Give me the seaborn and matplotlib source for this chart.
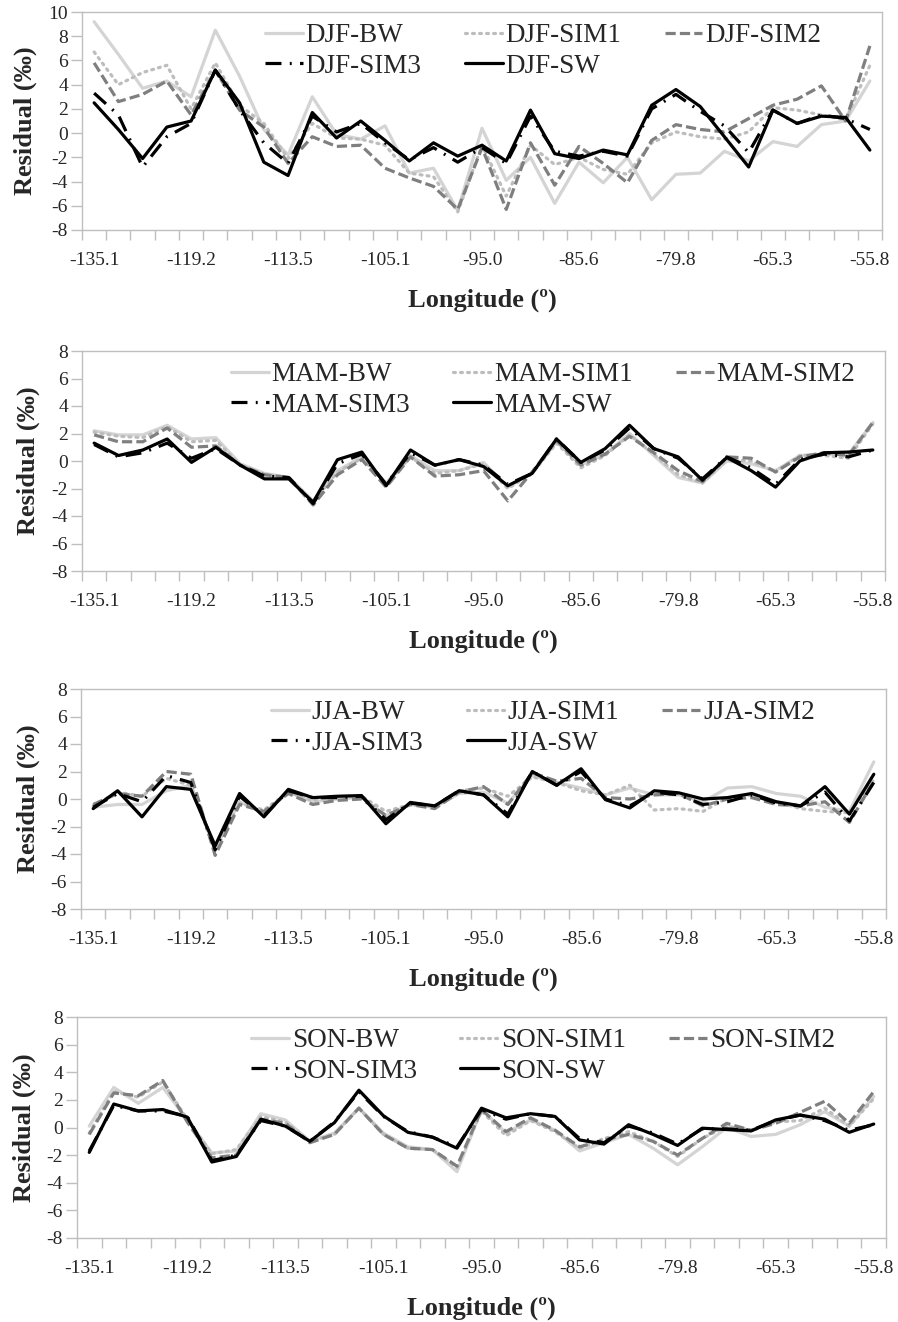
import numpy as np
import pandas as pd
import matplotlib
matplotlib.use("Agg")
import matplotlib.pyplot as plt
import seaborn as sns

# Category positions along the transect and their labels
lon_labels = ["-135.1", "-119.2", "-113.5", "-105.1", "-95.0", "-85.6", "-79.8", "-65.3", "-55.8"]
n_sites = 33

# ---- DJF residuals (permil) ----
djf_bw   = [9.2, 6.5, 3.7, 4.3, 3.0, 8.5, 4.7, 0.3, -1.8, 3.0, -0.1, -0.5, 0.6, -3.3, -2.9, -6.4, 0.4, -3.9, -2.0, -5.8, -2.4, -4.1, -2.0, -5.5, -3.4, -3.3, -1.5, -2.3, -0.7, -1.1, 0.7, 1.0, 4.3]
djf_sim1 = [6.7, 4.0, 5.0, 5.6, 2.0, 5.8, 2.3, 0.8, -2.1, 0.8, -0.4, -0.5, -1.0, -3.3, -3.6, -6.5, -1.0, -5.2, -1.0, -2.6, -2.0, -3.0, -3.4, -0.8, 0.1, -0.3, -0.5, 0.1, 2.1, 1.9, 1.5, 1.1, 5.6]
djf_sim2 = [5.8, 2.6, 3.2, 4.3, 1.5, 5.2, 1.9, 0.5, -2.5, -0.3, -1.1, -1.0, -2.9, -3.7, -4.4, -6.3, -1.2, -6.3, -0.8, -4.3, -1.1, -2.5, -4.1, -0.6, 0.7, 0.3, 0.1, 1.2, 2.3, 2.8, 3.9, 1.0, 7.2]
djf_sim3 = [3.3, 1.5, -2.8, -0.3, 0.8, 5.2, 1.9, -0.8, -2.5, 1.4, 0.1, 0.8, -0.8, -2.2, -1.2, -2.4, -1.2, -2.5, 1.4, -1.5, -1.9, -1.5, -1.9, 2.0, 3.2, 1.8, 0.6, -1.6, 1.9, 0.8, 1.5, 1.2, 0.3]
djf_sw   = [2.5, 0.3, -2.1, 0.5, 1.0, 5.2, 2.5, -2.4, -3.5, 1.7, -0.4, 1.0, -0.6, -2.3, -0.8, -1.9, -1.0, -2.3, 1.9, -1.7, -2.1, -1.4, -1.8, 2.3, 3.6, 2.2, -0.3, -2.8, 1.9, 0.8, 1.4, 1.3, -1.4]

# ---- MAM residuals ----
mam_bw   = [2.2, 1.9, 1.9, 2.6, 1.6, 1.7, -0.2, -0.9, -1.2, -2.9, -0.7, 0.3, -1.6, 0.4, -0.7, -0.7, -0.1, -1.9, -0.9, 1.4, -0.3, 0.5, 2.0, 0.4, -1.2, -1.6, 0.0, -0.2, -0.7, 0.4, 0.5, 0.5, 2.8]
mam_sim1 = [2.1, 1.8, 1.7, 2.5, 1.4, 1.5, -0.3, -1.0, -1.2, -3.0, -0.8, 0.2, -1.7, 0.3, -0.9, -0.7, -0.2, -2.0, -0.9, 1.3, -0.5, 0.4, 1.9, 0.5, -1.0, -1.6, 0.1, 0.0, -0.8, 0.4, 0.4, 0.2, 2.7]
mam_sim2 = [1.9, 1.4, 1.4, 2.4, 1.0, 1.1, -0.3, -1.0, -1.2, -3.2, -1.0, 0.1, -1.9, 0.3, -1.1, -1.0, -0.7, -2.9, -0.8, 1.5, -0.3, 0.5, 1.8, 0.6, -0.7, -1.5, 0.3, 0.2, -0.8, 0.3, 0.6, 0.4, 2.8]
mam_sim3 = [1.2, 0.3, 0.6, 1.3, 0.2, 0.9, -0.3, -1.1, -1.2, -3.1, -0.2, 0.5, -1.7, 0.6, -0.3, 0.1, -0.3, -1.7, -0.9, 1.6, -0.1, 0.8, 2.4, 0.9, 0.2, -1.3, 0.3, -0.5, -1.7, 0.1, 0.5, 0.3, 0.8]
mam_sw   = [1.3, 0.4, 0.8, 1.6, -0.1, 1.0, -0.3, -1.3, -1.3, -3.0, 0.1, 0.65, -1.8, 0.8, -0.3, 0.1, -0.4, -1.8, -0.9, 1.6, -0.1, 0.9, 2.6, 0.9, 0.3, -1.4, 0.25, -0.7, -1.9, 0.0, 0.6, 0.65, 0.8]

# ---- JJA residuals ----
jja_bw   = [-0.6, -0.4, -0.4, 0.6, 1.0, -3.6, -0.2, -1.0, 0.5, -0.2, 0.0, 0.1, -1.2, -0.4, -0.6, 0.4, 0.5, -0.3, 1.7, 1.2, 0.8, 0.3, 0.8, 0.3, 0.3, -0.2, 0.8, 0.9, 0.4, 0.2, -0.6, -0.9, 2.7]
jja_sim1 = [-0.5, 0.5, 0.2, 1.5, 1.0, -3.8, -0.3, -0.8, 0.5, -0.1, 0.1, 0.2, -0.9, -0.4, -0.6, 0.6, 0.8, 0.2, 1.6, 1.2, 0.6, 0.3, 1.0, -0.8, -0.7, -0.9, 0.1, 0.3, -0.2, -0.7, -0.9, -1.0, 1.4]
jja_sim2 = [-0.4, 0.4, 0.2, 2.0, 1.8, -4.1, -0.4, -0.9, 0.4, -0.4, -0.1, 0.0, -1.2, -0.4, -0.7, 0.5, 0.9, -0.4, 1.9, 1.3, 1.5, 0.1, 0.0, 0.3, 0.4, -0.5, 0.0, 0.1, -0.4, -0.5, -0.2, -1.7, 1.3]
jja_sim3 = [-0.6, 0.4, -0.2, 1.7, 1.2, -3.7, 0.2, -1.2, 0.6, 0.1, 0.1, 0.2, -1.5, -0.3, -0.5, 0.6, 0.3, -1.1, 2.0, 1.0, 2.0, 0.0, -0.5, 0.5, 0.3, -0.4, -0.2, 0.3, -0.3, -0.5, 0.5, -1.6, 1.2]
jja_sw   = [-0.7, 0.6, -1.3, 0.9, 0.7, -3.4, 0.4, -1.3, 0.7, 0.1, 0.2, 0.25, -1.8, -0.25, -0.5, 0.6, 0.3, -1.3, 2.0, 1.0, 2.2, -0.05, -0.65, 0.6, 0.45, 0.0, 0.1, 0.4, -0.2, -0.5, 0.9, -1.1, 1.8]

# ---- SON residuals ----
son_bw   = [0.1, 2.9, 1.75, 2.9, 0.55, -1.85, -1.7, 1.0, 0.55, -1.0, -0.4, 1.4, -0.4, -1.4, -1.6, -3.2, 1.3, -0.4, 0.55, -0.2, -1.7, -1.1, -0.5, -1.5, -2.7, -1.4, 0.0, -0.65, -0.5, 0.2, 1.15, 0.1, 2.25]
son_sim1 = [-0.4, 2.6, 2.2, 3.3, 0.6, -1.9, -1.6, 0.8, 0.4, -1.0, -0.5, 1.4, -0.5, -1.5, -1.6, -2.9, 1.2, -0.6, 0.5, -0.3, -1.5, -0.8, -0.3, -1.0, -2.1, -0.8, 0.1, -0.2, 0.4, 0.5, 1.4, 0.1, 2.1]
son_sim2 = [-0.5, 2.5, 2.3, 3.4, 0.4, -2.2, -2.0, 0.6, 0.3, -1.1, -0.5, 1.4, -0.5, -1.5, -1.6, -2.8, 1.3, -0.3, 0.7, -0.2, -1.4, -0.9, -0.5, -1.0, -2.0, -0.8, 0.3, -0.2, 0.3, 1.1, 1.9, 0.3, 2.6]
son_sim3 = [-1.7, 1.6, 1.2, 1.2, 0.8, -2.4, -2.0, 0.5, 0.1, -1.0, 0.4, 2.6, 0.8, -0.3, -0.7, -1.4, 1.3, 0.6, 1.0, 0.8, -0.8, -1.1, 0.1, -0.4, -1.2, -0.1, -0.1, -0.2, 0.5, 0.9, 0.5, -0.2, 0.2]
son_sw   = [-1.8, 1.7, 1.2, 1.3, 0.75, -2.5, -2.1, 0.6, 0.1, -1.0, 0.35, 2.7, 0.85, -0.35, -0.7, -1.5, 1.4, 0.7, 1.0, 0.8, -0.9, -1.2, 0.2, -0.5, -1.3, -0.05, -0.15, -0.25, 0.55, 0.9, 0.6, -0.35, 0.25]

seasons = ["DJF", "MAM", "JJA", "SON"]
series_names = ["BW", "SIM1", "SIM2", "SIM3", "SW"]
season_data = {
    "DJF": [djf_bw, djf_sim1, djf_sim2, djf_sim3, djf_sw],
    "MAM": [mam_bw, mam_sim1, mam_sim2, mam_sim3, mam_sw],
    "JJA": [jja_bw, jja_sim1, jja_sim2, jja_sim3, jja_sw],
    "SON": [son_bw, son_sim1, son_sim2, son_sim3, son_sw],
}
y_limits = {"DJF": (-8, 10), "MAM": (-8, 8), "JJA": (-8, 8), "SON": (-8, 8)}

# line styles per series
line_styles = {
    "BW":   dict(color="#d4d4d4", linestyle="-", lw=2.3),
    "SIM1": dict(color="#bdbdbd", linestyle=(0, (0.6, 1.6)), lw=2.3, dash_capstyle="round"),
    "SIM2": dict(color="#7f7f7f", linestyle=(0, (3.2, 1.3)), lw=2.3),
    "SIM3": dict(color="#000000", linestyle=(0, (5.0, 2.6, 0.6, 2.6)), lw=2.3),
    "SW":   dict(color="#000000", linestyle="-", lw=2.3),
}

sns.set_theme(style="white")
plt.rcParams["font.family"] = ["Liberation Serif", "DejaVu Serif"]
plt.rcParams["axes.unicode_minus"] = False

W, H = 898, 1322
fig = plt.figure(figsize=(W / 100, H / 100), dpi=100)

# panel boxes in pixels: left, top, right, bottom
boxes = {
    "DJF": (82, 12, 882, 230),
    "MAM": (82, 351, 885, 571),
    "JJA": (81, 689, 886, 909),
    "SON": (77, 1017, 886, 1238),
}
legend_center_px = 543

x = np.arange(n_sites)
for season in seasons:
    l, t, r, b = boxes[season]
    ax = fig.add_axes([l / W, 1 - b / H, (r - l) / W, (b - t) / H])
    handles = {}
    for name, vals in zip(series_names, season_data[season]):
        df = pd.DataFrame({"site": x, "residual": vals})
        sns.lineplot(data=df, x="site", y="residual", ax=ax, **line_styles[name],
                     label=f"{season}-{name}", legend=False)
        handles[name] = ax.lines[-1]

    lo, hi = y_limits[season]
    ax.set_ylim(lo, hi)
    ax.set_yticks(np.arange(lo, hi + 1, 2))
    ax.set_xlim(-0.5, n_sites - 0.5)
    ax.set_xticks(np.arange(0, n_sites, 4))
    ax.set_xticklabels(lon_labels)
    ax.set_xticks(np.arange(-0.5, n_sites, 1), minor=True)
    ax.tick_params(axis="x", which="major", length=0, pad=16, labelsize=14, colors="#262626")
    ax.tick_params(axis="x", which="minor", length=7, width=1, color="#bfbfbf", direction="out", bottom=True)
    ax.tick_params(axis="y", which="major", length=8, width=1, color="#bfbfbf", direction="out",
                   left=True, labelsize=14, labelcolor="#262626", pad=2)
    for sp in ax.spines.values():
        sp.set_color("#bfbfbf")
        sp.set_linewidth(1.0)
    ax.grid(False)

    ax.set_xlabel("Longitude (º)", fontsize=19, fontweight="bold", labelpad=14)
    ax.set_ylabel("Residual (‰)", fontsize=19, fontweight="bold", labelpad=8)

    order = ["BW", "SIM3", "SIM1", "SW", "SIM2"]
    ax.legend([handles[k] for k in order], [f"{season}-{k}" for k in order],
              ncol=3, loc="upper center",
              bbox_to_anchor=((legend_center_px - l) / (r - l), 1 - 11 / (b - t)),
              frameon=False, fontsize=19.5, handlelength=1.4, handletextpad=0.1,
              columnspacing=1.6, labelspacing=0.22, borderaxespad=0.0, borderpad=0.0)

fig.savefig("out.png", dpi=100, facecolor="white")
